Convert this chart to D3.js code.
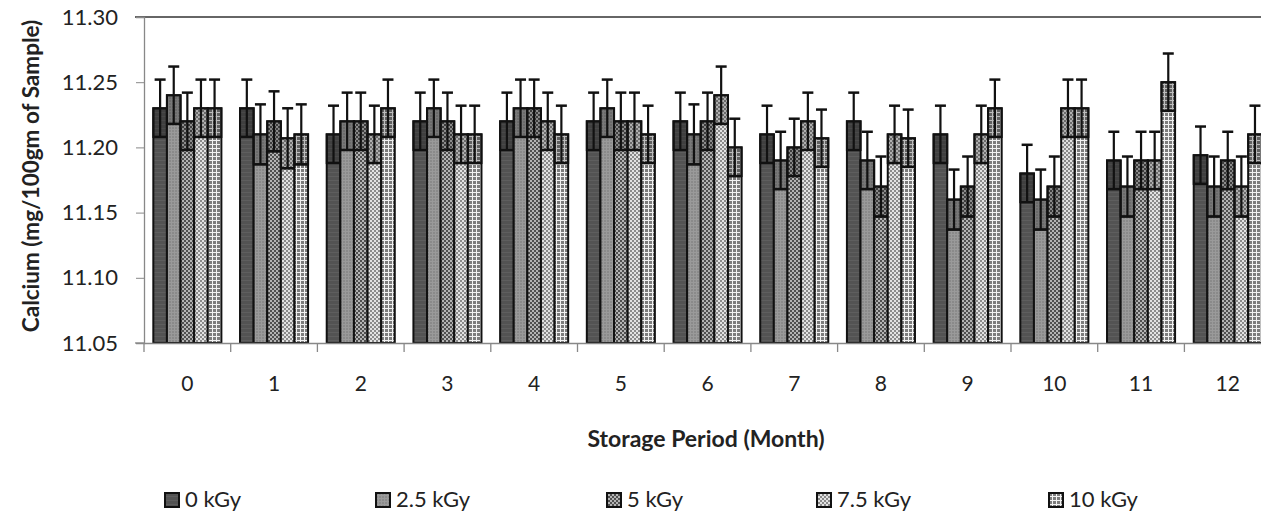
<!DOCTYPE html>
<html><head><meta charset="utf-8">
<script src="https://cdn.jsdelivr.net/npm/d3@7"></script>
<style>body{margin:0;background:#fff}svg{display:block}text{font-family:Lato,"Open Sans",sans-serif;fill:#222}</style>
</head><body><svg id="c" width="1261" height="514"></svg>
<script>
const months = ["0","1","2","3","4","5","6","7","8","9","10","11","12"];
const seriesNames = ["0 kGy","2.5 kGy","5 kGy","7.5 kGy","10 kGy"];
const yTicks = [11.05,11.10,11.15,11.20,11.25,11.30];
const v0   = [11.23,11.23,11.21,11.22,11.22,11.22,11.22,11.21,11.22,11.21,11.18,11.19,11.194];
const v25  = [11.24,11.21,11.22,11.23,11.23,11.23,11.21,11.19,11.19,11.16,11.16,11.17,11.17];
const v5   = [11.22,11.22,11.22,11.22,11.23,11.22,11.22,11.20,11.17,11.17,11.17,11.19,11.19];
const v75  = [11.23,11.207,11.21,11.21,11.22,11.22,11.24,11.22,11.21,11.21,11.23,11.19,11.17];
const v10  = [11.23,11.21,11.23,11.21,11.21,11.21,11.20,11.207,11.207,11.23,11.23,11.25,11.21];
const e0   = [0.022,0.022,0.022,0.022,0.022,0.022,0.022,0.022,0.022,0.022,0.022,0.022,0.022];
const e25  = [0.022,0.023,0.022,0.022,0.022,0.022,0.023,0.022,0.022,0.023,0.023,0.023,0.023];
const e5   = [0.022,0.023,0.022,0.022,0.022,0.022,0.022,0.022,0.023,0.023,0.023,0.022,0.022];
const e75  = [0.022,0.023,0.022,0.022,0.022,0.022,0.022,0.022,0.022,0.022,0.022,0.022,0.023];
const e10  = [0.022,0.023,0.022,0.022,0.022,0.022,0.022,0.022,0.022,0.022,0.022,0.022,0.022];
const values = [v0,v25,v5,v75,v10];
const errors = [e0,e25,e5,e75,e10];

(function(){
const svg = d3.select("#c");
const defs = svg.append("defs");
function pat(id, w, h, bg, draw){
  const p = defs.append("pattern").attr("id",id).attr("patternUnits","userSpaceOnUse").attr("width",w).attr("height",h);
  p.append("rect").attr("width",w).attr("height",h).attr("fill",bg);
  draw(p);
}
pat("p0",4,4,"#535353",p=>{p.append("rect").attr("y",0).attr("width",4).attr("height",1).attr("fill","#5e5e5e");});
pat("p1",3,3,"#8a8a8a",p=>{p.append("rect").attr("width",3).attr("height",1).attr("fill","#9a9a9a");p.append("rect").attr("width",1).attr("height",3).attr("fill","#9a9a9a");});
pat("p2",4,4,"#b4b4b4",p=>{p.append("rect").attr("width",2).attr("height",2).attr("fill","#505050");p.append("rect").attr("x",2).attr("y",2).attr("width",2).attr("height",2).attr("fill","#505050");});
pat("p3",4,4,"#e2e2e2",p=>{p.append("rect").attr("width",2).attr("height",2).attr("fill","#8a8a8a");p.append("rect").attr("x",2).attr("y",2).attr("width",2).attr("height",2).attr("fill","#8a8a8a");});
pat("p4",4,4,"#7c7c7c",p=>{p.append("rect").attr("width",4).attr("height",1).attr("fill","#f2f2f2");p.append("rect").attr("width",1).attr("height",4).attr("fill","#f2f2f2");});
const fills = ["url(#p0)","url(#p1)","url(#p2)","url(#p3)","url(#p4)"];

const plotLeft = 144, bandW = 86.7, plotTop = 17, plotBottom = 343;
const x0 = d3.scaleBand().domain(months).range([plotLeft, plotLeft + bandW*months.length]).padding(0);
const x1 = d3.scaleBand().domain(d3.range(seriesNames.length)).range([bandW*0.1075, bandW*0.8925]).padding(0);
const y = d3.scaleLinear().domain([11.05,11.30]).range([plotBottom, plotTop]);

svg.append("line").attr("x1",135).attr("x2",1261).attr("y1",y(11.30)).attr("y2",y(11.30)).attr("stroke","#333").attr("stroke-width",1.5);

const g = svg.append("g");
months.forEach((m,i)=>{
  seriesNames.forEach((s,j)=>{
    const bx = x0(m)+x1(j), bw = x1.bandwidth();
    const v = values[j][i], e = errors[j][i];
    g.append("rect").attr("x",bx).attr("y",y(v)).attr("width",bw).attr("height",plotBottom-y(v)).attr("fill",fills[j]).attr("stroke","#111").attr("stroke-width",2);
    g.append("rect").attr("x",bx).attr("y",y(v)).attr("width",bw).attr("height",y(v-e)-y(v)).attr("fill","#000").attr("fill-opacity",0.22).attr("stroke","#111").attr("stroke-width",2);
    const cx = bx + bw/2, cw = 11;
    g.append("line").attr("x1",cx).attr("x2",cx).attr("y1",y(v+e)).attr("y2",y(v-e)).attr("stroke","#111").attr("stroke-width",2.2);
    g.append("line").attr("x1",cx-cw/2).attr("x2",cx+cw/2).attr("y1",y(v+e)).attr("y2",y(v+e)).attr("stroke","#111").attr("stroke-width",2.5);
    g.append("line").attr("x1",bx).attr("x2",bx+bw).attr("y1",y(v-e)).attr("y2",y(v-e)).attr("stroke","#111").attr("stroke-width",2.5);
  });
});

const yAxis = svg.append("g").attr("transform",`translate(${plotLeft},0)`)
  .call(d3.axisLeft(y).tickValues(yTicks).tickFormat(d3.format(".2f")).tickSize(8).tickPadding(18));
yAxis.select(".domain").attr("stroke","#888").attr("stroke-width",1.3);
yAxis.selectAll(".tick line").attr("stroke","#888");
yAxis.selectAll("text").style("font-size","22px").attr("fill","#222");

const xAxis = svg.append("g").attr("transform",`translate(0,${plotBottom})`)
  .call(d3.axisBottom(x0).tickSize(0).tickPadding(33));
xAxis.select(".domain").attr("stroke","#888").attr("stroke-width",1.3);
xAxis.selectAll("text").style("font-size","21px").attr("fill","#222");
const bounds = d3.range(months.length+1).map(k=> plotLeft + k*bandW);
svg.append("g").selectAll("line").data(bounds).join("line")
  .attr("x1",d=>d).attr("x2",d=>d).attr("y1",plotBottom).attr("y2",plotBottom+9).attr("stroke","#888").attr("stroke-width",1.3);
svg.append("line").attr("x1",135).attr("x2",plotLeft).attr("y1",plotBottom).attr("y2",plotBottom).attr("stroke","#888").attr("stroke-width",1.3);

svg.append("text").attr("transform","translate(39,176) rotate(-90)").attr("text-anchor","middle")
  .style("font-size","22.5px").style("font-weight","bold").text("Calcium (mg/100gm of Sample)");
svg.append("text").attr("x",706).attr("y",447).attr("text-anchor","middle")
  .style("font-size","23px").style("font-weight","bold").text("Storage Period (Month)");

const legX = [164,375,606,816,1048];
const leg = svg.append("g");
seriesNames.forEach((s,j)=>{
  leg.append("rect").attr("x",legX[j]+1).attr("y",493).attr("width",14).attr("height",14).attr("fill",fills[j]).attr("stroke","#111").attr("stroke-width",2);
  leg.append("text").attr("x",legX[j]+21).attr("y",507).style("font-size","22px").text(s);
});
})();
</script></body></html>
